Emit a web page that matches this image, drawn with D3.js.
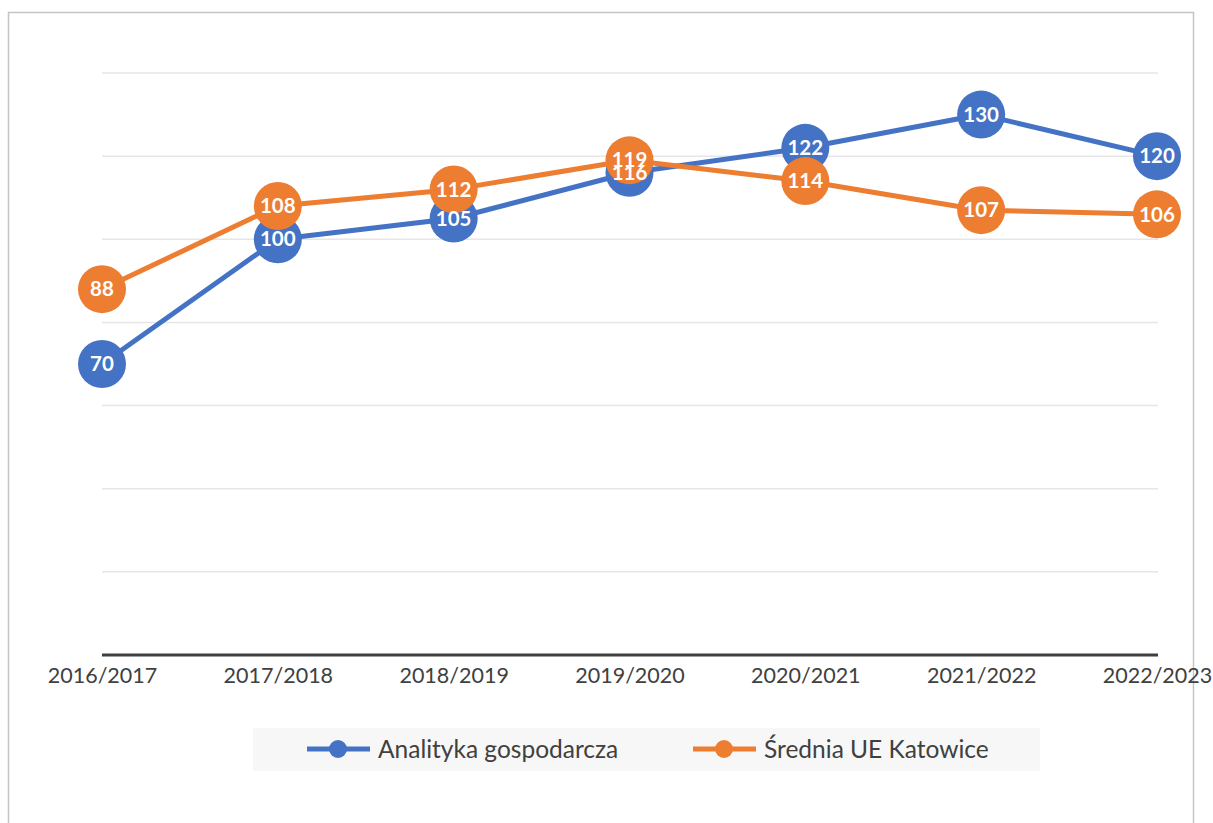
<!DOCTYPE html>
<html>
<head>
<meta charset="utf-8">
<script src="https://cdn.jsdelivr.net/npm/d3@7"></script>
<style>
  body { margin: 0; background: #fff; }
  svg { display: block; font-family: Lato, "Open Sans", sans-serif; }
</style>
</head>
<body>
<div id="chart"></div>
<script>
var years = ["2016/2017", "2017/2018", "2018/2019", "2019/2020", "2020/2021", "2021/2022", "2022/2023"];
var analityka = [70, 100, 105, 116, 122, 130, 120];
var srednia = [88, 108, 112, 119, 114, 107, 106];
var gridTicks = [20, 40, 60, 80, 100, 120, 140];
var seriesNames = ["Analityka gospodarcza", "Średnia UE Katowice"];
var seriesColors = ["#4472C4", "#ED7D31"];

var width = 1213, height = 823;

var svg = d3.select("#chart").append("svg")
    .attr("width", width)
    .attr("height", height);

// outer frame
svg.append("rect")
    .attr("x", 8.5).attr("y", 12.5)
    .attr("width", 1185).attr("height", 830)
    .attr("fill", "none")
    .attr("stroke", "#c4c4c4")
    .attr("stroke-width", 1.5);

var x = d3.scalePoint().domain(years).range([102, 1157]);
var y = d3.scaleLinear().domain([0, 140]).range([655, 73]);

// gridlines
svg.append("g")
  .selectAll("line")
  .data(gridTicks)
  .enter().append("line")
    .attr("x1", 102).attr("x2", 1158)
    .attr("y1", function(d) { return y(d); })
    .attr("y2", function(d) { return y(d); })
    .attr("stroke", "#e6e6e6")
    .attr("stroke-width", 1.5);

// x axis
var xAxis = svg.append("g")
    .attr("transform", "translate(0," + y(0) + ")")
    .call(d3.axisBottom(x).tickSize(0).tickPadding(13));
xAxis.select(".domain")
    .attr("d", "M102,0H1158")
    .attr("stroke", "#404040")
    .attr("stroke-width", 3);
xAxis.selectAll("text")
    .attr("font-size", 21.5)
    .attr("font-family", "Lato, sans-serif")
    .attr("fill", "#404040");

var line = d3.line()
    .x(function(d, i) { return x(years[i]); })
    .y(function(d) { return y(d); });

var allSeries = [analityka, srednia];

allSeries.forEach(function(vals, s) {
  svg.append("path")
      .attr("d", line(vals))
      .attr("fill", "none")
      .attr("stroke", seriesColors[s])
      .attr("stroke-width", 5)
      .attr("stroke-linejoin", "round");
});

allSeries.forEach(function(vals, s) {
  svg.append("g").selectAll("circle")
    .data(vals)
    .enter().append("circle")
      .attr("cx", function(d, i) { return x(years[i]); })
      .attr("cy", function(d) { return y(d); })
      .attr("r", 24)
      .attr("fill", seriesColors[s]);
});

allSeries.forEach(function(vals, s) {
  svg.append("g").selectAll("text")
    .data(vals)
    .enter().append("text")
      .attr("x", function(d, i) { return x(years[i]); })
      .attr("y", function(d) { return y(d); })
      .attr("dy", "0.35em")
      .attr("text-anchor", "middle")
      .attr("font-size", 20.5)
      .attr("font-weight", "bold")
      .attr("fill", "#fff")
      .text(function(d) { return d; });
});

// legend
var legend = svg.append("g");
legend.append("rect")
    .attr("x", 253).attr("y", 728)
    .attr("width", 787).attr("height", 43)
    .attr("fill", "#f7f7f7");

var legendX = [307, 693];
seriesNames.forEach(function(name, s) {
  var lx = legendX[s];
  legend.append("line")
      .attr("x1", lx).attr("x2", lx + 63)
      .attr("y1", 749).attr("y2", 749)
      .attr("stroke", seriesColors[s])
      .attr("stroke-width", 5);
  legend.append("circle")
      .attr("cx", lx + 31).attr("cy", 749)
      .attr("r", 9)
      .attr("fill", seriesColors[s]);
  legend.append("text")
      .attr("x", lx + 71).attr("y", 749)
      .attr("dy", "0.35em")
      .attr("font-size", 24.5)
      .attr("fill", "#404040")
      .text(name);
});
</script>
</body>
</html>
